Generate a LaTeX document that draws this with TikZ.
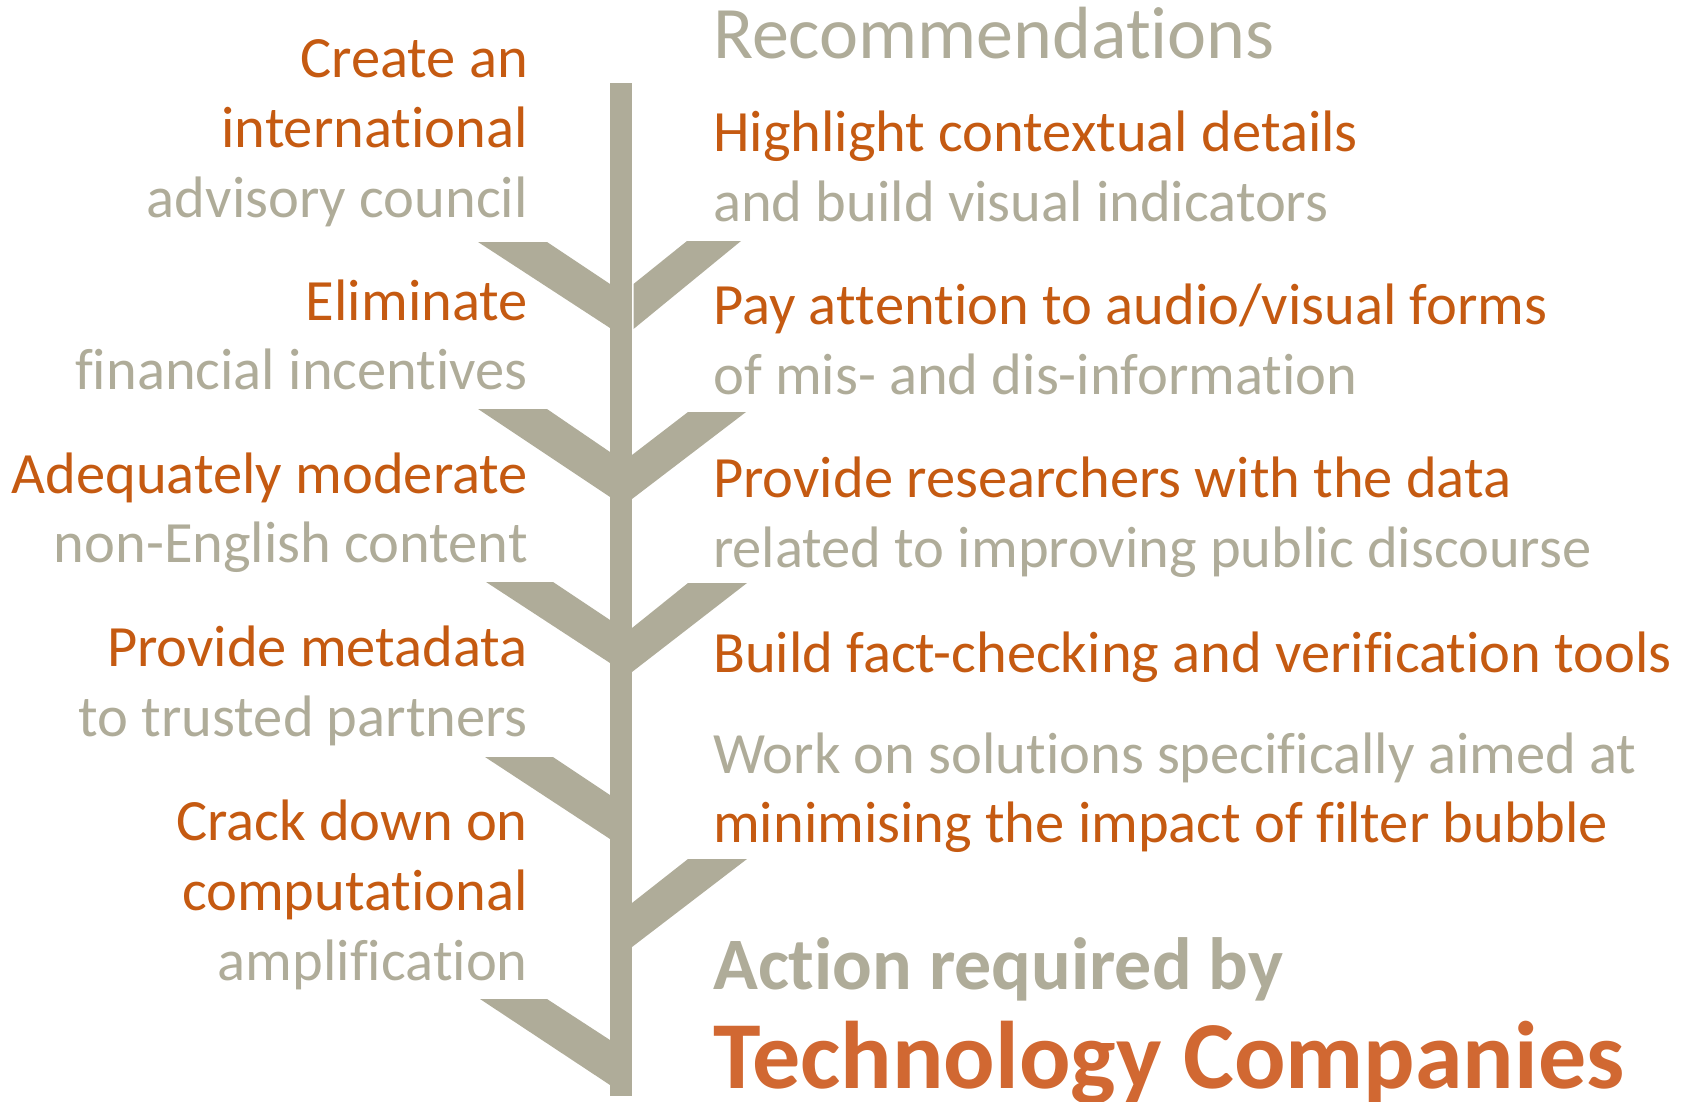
\documentclass[tikz,border=0pt]{standalone}
\usepackage{fontspec}
\setmainfont{Carlito}
% zero kern: keeps letter pairs such as t+i and f+i as separate glyphs
\newcommand\zk{\kern0pt }
\definecolor{stalk}{RGB}{175,172,153}
\definecolor{rust}{RGB}{197,90,17}
\definecolor{brick}{RGB}{209,104,50}
\begin{document}
\begin{tikzpicture}[x=1pt,y=-1pt,
  txt/.style={inner sep=0pt,font=\fontsize{58.5}{70}\selectfont},
  lhead/.style={txt,anchor=base east,text=rust},
  lsub/.style={txt,anchor=base east,text=stalk},
  rhead/.style={txt,anchor=base west,text=rust},
  rsub/.style={txt,anchor=base west,text=stalk},
  leaf/.style={fill=stalk,draw=none}]
\useasboundingbox (0,0) rectangle (1686,1102);

% stem
\fill[stalk] (610,83) rectangle (632,1096);

% left leaves: outer-left x, outer-right x, top y, upper join y, lower join y
\foreach \a/\b/\t/\u/\l in {478/547/242/284/328, 478/547/409/452/497,
    486/553/582/620/663, 485/553/757/795/839, 480/547/999/1040/1085}
  \fill[leaf] (\a,\t) -- (\b,\t) -- (610,\u) -- (610,\l) -- cycle;

% right leaves
\fill[leaf] (687,241) -- (741,241) -- (633.5,329) -- (633.5,284) -- cycle;
\foreach \a/\b/\t/\u/\l in {688/746/412/455/499, 688/747/583/628/672,
    688/747/859/903/947}
  \fill[leaf] (\a,\t) -- (\b,\t) -- (632,\l) -- (632,\u) -- cycle;

% left column
\node[lhead] (l1a) at (528,78) {Create an};
\node[lhead] (l1b) at (528,148) {internat\zk ional};
\node[lsub]  (l1c) at (528,218) {advisory council};
\node[lhead] (l2a) at (528,320) {Eliminate};
\node[lsub]  (l2b) at (528,389) {f\zk inancial incent\zk ives};
\node[lhead] (l3a) at (528,493) {Adequately moderate};
\node[lsub]  (l3b) at (528,562) {non-English content};
\node[lhead] (l4a) at (528,666) {Provide metadata};
\node[lsub]  (l4b) at (528,736) {to trusted partners};
\node[lhead] (l5a) at (528,840) {Crack down on};
\node[lhead] (l5b) at (528,910) {computat\zk ional};
\node[lsub]  (l5c) at (528,980) {amplif\zk icat\zk ion};

% right column
\node[rsub,font=\fontsize{74}{80}\selectfont] (title) at (713,59) {Recommendat\zk ions};
\node[rhead] (r1a) at (713,152) {Highlight contextual details};
\node[rsub]  (r1b) at (713,222) {and build visual indicators};
\node[rhead] (r2a) at (713,324) {Pay at\zk t\zk ent\zk ion to audio/visual forms};
\node[rsub]  (r2b) at (713,394) {of mis- and dis-informat\zk ion};
\node[rhead] (r3a) at (713,497) {Provide researchers with the data};
\node[rsub]  (r3b) at (713,567) {related to improving public discourse};
\node[rhead] (r4a) at (713,672) {Build fact-checking and verif\zk icat\zk ion tools};
\node[rsub]  (r5a) at (713,773) {Work on solut\zk ions specif\zk ically aimed at};
\node[rhead] (r5b) at (713,842) {minimising the impact of f\zk ilter bubble};

% actor
\node[rsub,font=\bfseries\fontsize{74}{80}\selectfont] (act) at (713,989) {Act\zk ion required by};
\node[rsub,text=brick,font=\bfseries\fontsize{96}{100}\selectfont] (who) at (713,1088) {Technology Companies};
\end{tikzpicture}
\end{document}
